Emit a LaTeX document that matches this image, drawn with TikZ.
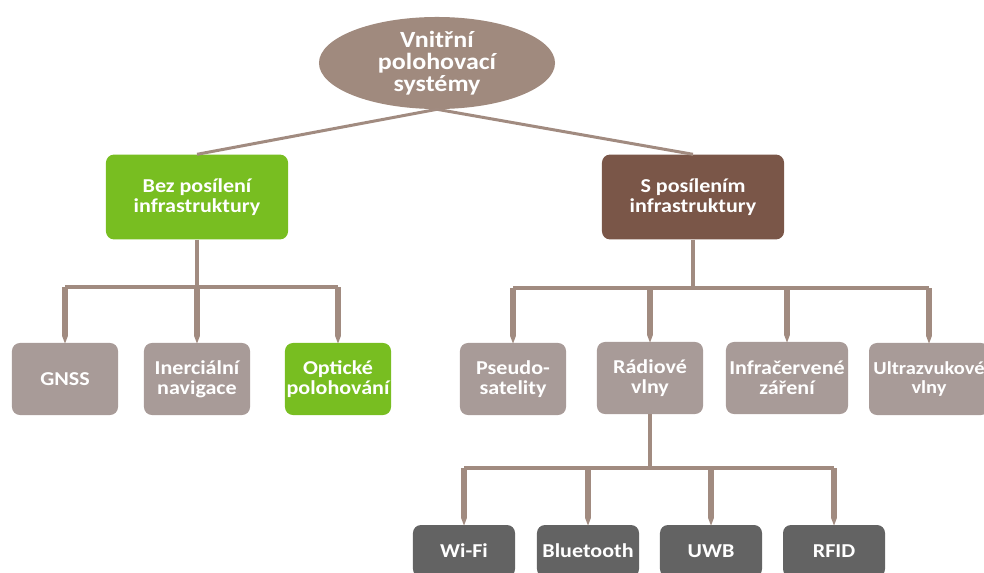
\documentclass[tikz,border=0pt]{standalone}
\usepackage{fontspec}
\setmainfont[FakeStretch=1.12]{Carlito}
\usepackage{tikz}
\usetikzlibrary{arrows.meta, positioning, shapes.geometric}

\definecolor{RootBrown}{HTML}{A08A7E}
\definecolor{LeafGreen}{HTML}{78BE21}
\definecolor{DarkBrown}{HTML}{7A5648}
\definecolor{BoxGray}{HTML}{A89B98}
\definecolor{DarkGray}{HTML}{636363}
\definecolor{LineBrown}{HTML}{A18B80}

\begin{document}
\begin{tikzpicture}[x=0.025cm, y=-0.025cm,
  box/.style={rectangle, rounded corners=0.2cm, align=center, text=white,
    font=\bfseries\fontsize{14}{14}\selectfont, inner sep=1pt},
  topbox/.style={box, minimum width=4.55cm, minimum height=2.12cm},
  midbox/.style={box, minimum width=2.65cm, minimum height=1.8cm, fill=BoxGray},
  lowbox/.style={box, minimum width=2.55cm, minimum height=1.3cm, fill=DarkGray},
  link/.style={LineBrown, line width=0.75mm},
  stem/.style={LineBrown, line width=1.1mm},
  bus/.style={LineBrown, line width=0.8mm},
  drop/.style={LineBrown, line width=1.3mm, -{Triangle[width=0pt 1, length=0pt 1.6]}}]
  \useasboundingbox (0,0) rectangle (984,572);

  % Root
  \node[ellipse, fill=RootBrown, text=white, align=center, inner sep=0pt,
    minimum width=5.9cm, minimum height=2.3cm,
    font=\bfseries\fontsize{16.5}{15.6}\selectfont] (root) at (437,63) {Vnitřní\\polohovací\\systémy};

  % First level
  \node[topbox, fill=LeafGreen] (bez) at (197,197) {Bez posílení\\infrastruktury};
  \node[topbox, fill=DarkBrown] (spos) at (693,197) {S posílením\\infrastruktury};

  % Second level
  \node[midbox] (gnss) at (65,379) {GNSS};
  \node[midbox] (inerc) at (197,379) {Inerciální\\navigace};
  \node[midbox, fill=LeafGreen] (opt) at (338,379) {Optické\\polohování};
  \node[midbox] (pseudo) at (513,379) {Pseudo-\\satelity};
  \node[midbox] (radio) at (650,378) {Rádiové\\vlny};
  \node[midbox, minimum width=3.05cm] (infra) at (787,378) {Infračervené\\záření};
  \node[midbox, minimum width=3.0cm, font=\bfseries\fontsize{13}{14}\selectfont] (ultra) at (929,379) {Ultrazvukové\\vlny};

  % Radio technologies
  \node[lowbox] (wifi) at (464,551) {Wi-Fi};
  \node[lowbox] (blue) at (588,551) {Bluetooth};
  \node[lowbox] (uwb) at (711,551) {UWB};
  \node[lowbox] (rfid) at (834,551) {RFID};

  % Bus levels
  \coordinate (lbus) at (0,287);
  \coordinate (rbus) at (0,288);
  \coordinate (wbus) at (0,468);

  % Root to first level
  \draw[link] (root.south) -- (bez.north);
  \draw[link] (root.south) -- (spos.north);

  % Left branch
  \draw[stem] (bez.south) -- (bez.south |- lbus);
  \draw[bus] (gnss.north |- lbus) -- (opt.north |- lbus);
  \foreach \n in {gnss, inerc, opt}
    \draw[drop] (\n.north |- lbus) -- ([yshift=-1pt]\n.north);

  % Right branch
  \draw[stem] (spos.south) -- (spos.south |- rbus);
  \draw[bus] (pseudo.north |- rbus) -- (ultra.north |- rbus);
  \foreach \n in {pseudo, radio, infra, ultra}
    \draw[drop] (\n.north |- rbus) -- ([yshift=-1pt]\n.north);

  % Radio waves branch
  \draw[stem] (radio.south) -- (radio.south |- wbus);
  \draw[bus] (wifi.north |- wbus) -- (rfid.north |- wbus);
  \foreach \n in {wifi, blue, uwb, rfid}
    \draw[drop] (\n.north |- wbus) -- ([yshift=-1pt]\n.north);
\end{tikzpicture}
\end{document}
